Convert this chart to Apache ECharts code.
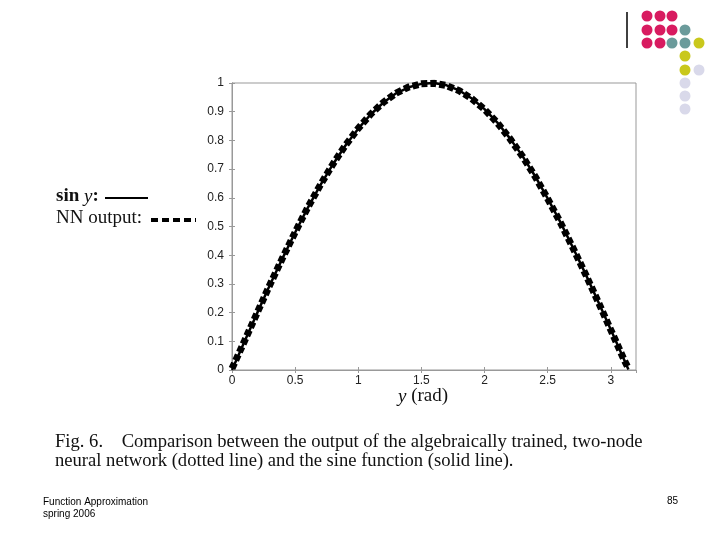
<!DOCTYPE html>
<html>
<head>
<meta charset="utf-8">
<style>
  html, body { margin: 0; padding: 0; background: #fff; }
  #main { width: 720px; height: 540px; }
</style>
<script src="https://cdn.jsdelivr.net/npm/echarts@6/dist/echarts.min.js"></script>
</head>
<body>
<div id="main"></div>
<script>
// x positions (rad)
const angles = [0, 0.1, 0.2, 0.3, 0.4, 0.5, 0.6, 0.7, 0.8, 0.9, 1.0, 1.1, 1.2, 1.3, 1.4, 1.5,
  1.6, 1.7, 1.8, 1.9, 2.0, 2.1, 2.2, 2.3, 2.4, 2.5, 2.6, 2.7, 2.8, 2.9, 3.0, 3.1, 3.14]
// solid line: sin y
const sinValues = [0, 0.100, 0.199, 0.296, 0.389, 0.479, 0.565, 0.644, 0.717, 0.783, 0.841,
  0.891, 0.932, 0.964, 0.985, 0.997, 1.000, 0.992, 0.974, 0.946, 0.909, 0.863, 0.808,
  0.746, 0.676, 0.598, 0.516, 0.427, 0.335, 0.239, 0.141, 0.042, 0.002]
// dotted line: NN output
const nnValues = [0.005, 0.102, 0.200, 0.297, 0.390, 0.480, 0.566, 0.645, 0.718, 0.784, 0.842,
  0.892, 0.933, 0.965, 0.986, 0.997, 0.999, 0.991, 0.973, 0.945, 0.908, 0.862, 0.807,
  0.745, 0.675, 0.597, 0.515, 0.426, 0.334, 0.238, 0.140, 0.041, 0.005]
const xTicks = [0, 0.5, 1, 1.5, 2, 2.5, 3]

const dotColors = { pink: '#d81b60', teal: '#6b9b9b', yellow: '#c9c81c', lav: '#d9d9ea' }
const dots = [
  [647, 16, 'pink'], [660, 16, 'pink'], [672, 16, 'pink'],
  [647, 30, 'pink'], [660, 30, 'pink'], [672, 30, 'pink'], [685, 30, 'teal'],
  [647, 43, 'pink'], [660, 43, 'pink'], [672, 43, 'teal'], [685, 43, 'teal'], [699, 43, 'yellow'],
  [685, 56, 'yellow'], [685, 70, 'yellow'], [699, 70, 'lav'],
  [685, 83, 'lav'], [685, 96, 'lav'], [685, 109, 'lav']
]

const chart = echarts.init(document.getElementById('main'))

const serif = 'Liberation Serif, Times New Roman, serif'
const sans = 'Liberation Sans, Arial, sans-serif'
const axisLine = { show: true, lineStyle: { color: '#999', width: 1 } }
const tick = { show: true, inside: true, length: 3, lineStyle: { color: '#999' } }

const graphics = [
  { type: 'line', shape: { x1: 627, y1: 12, x2: 627, y2: 48 }, style: { stroke: '#000', lineWidth: 1.5 } },
  // legend
  { type: 'text', left: 56, top: 187, style: { text: '{a|sin }{b|y}{a|:}', rich: {
    a: { fontFamily: serif, fontSize: 19, fontWeight: 'bold', fill: '#111' },
    b: { fontFamily: serif, fontSize: 19, fontStyle: 'italic', fill: '#111' } } } },
  { type: 'line', shape: { x1: 105, y1: 198, x2: 148, y2: 198 }, style: { stroke: '#000', lineWidth: 2 } },
  { type: 'text', left: 56, top: 209, style: { text: 'NN output:', fontFamily: serif, fontSize: 19, fill: '#111' } },
  { type: 'line', shape: { x1: 151, y1: 220, x2: 196, y2: 220 }, style: { stroke: '#000', lineWidth: 4, lineDash: [7, 4] } },
  // x axis name
  { type: 'text', left: 398, top: 387, style: { text: '{b|y}{a| (rad)}', rich: {
    a: { fontFamily: serif, fontSize: 19, fill: '#111' },
    b: { fontFamily: serif, fontSize: 19, fontStyle: 'italic', fill: '#111' } } } },
  // caption
  { type: 'text', left: 55, top: 433, style: {
    text: 'Fig. 6.    Comparison between the output of the algebraically trained, two-node\nneural network (dotted line) and the sine function (solid line).',
    fontFamily: serif, fontSize: 18.6, lineHeight: 19, fill: '#111' } },
  // footer
  { type: 'text', left: 43, top: 496, style: { text: 'Function Approximation\nspring 2006',
    fontFamily: sans, fontSize: 10, lineHeight: 12, fill: '#000' } },
  { type: 'text', left: 667, top: 496, style: { text: '85', fontFamily: sans, fontSize: 10, fill: '#000' } }
]
dots.forEach(d => {
  graphics.push({ type: 'circle', shape: { cx: d[0], cy: d[1], r: 5.5 }, style: { fill: dotColors[d[2]] } })
})

const option = {
  backgroundColor: '#fff',
  animation: false,
  grid: { left: 232, top: 83, width: 404, height: 287, show: true, borderColor: '#999', borderWidth: 1 },
  xAxis: [
    {
      type: 'value', min: 0, max: 3.2, interval: 0.5,
      axisLine: axisLine, axisTick: tick, splitLine: { show: false },
      axisLabel: { showMaxLabel: false, margin: 5, fontFamily: sans, fontSize: 12, color: '#222',
        formatter: v => (xTicks.indexOf(v) >= 0 ? String(v) : '') }
    },
    {
      type: 'value', position: 'top', min: 0, max: 3.2, interval: 0.5,
      axisLine: axisLine, axisTick: tick, axisLabel: { show: false }, splitLine: { show: false }
    }
  ],
  yAxis: [
    {
      type: 'value', min: 0, max: 1, interval: 0.1,
      axisLine: axisLine, axisTick: tick, splitLine: { show: false },
      axisLabel: { margin: 8, fontFamily: sans, fontSize: 12, color: '#222',
        formatter: v => (v === 0 || v === 1 ? String(v) : v.toFixed(1)) }
    },
    {
      type: 'value', position: 'right', min: 0, max: 1, interval: 0.1,
      axisLine: axisLine, axisTick: tick, axisLabel: { show: false }, splitLine: { show: false }
    }
  ],
  series: [
    {
      name: 'sin y', type: 'line', showSymbol: false, z: 2,
      data: angles.map((x, i) => [x, sinValues[i]]),
      lineStyle: { color: '#000', width: 2.5 }
    },
    {
      name: 'NN output', type: 'line', showSymbol: false, z: 3,
      data: angles.map((x, i) => [x, nnValues[i]]),
      lineStyle: { color: '#000', width: 7, type: [6, 3] }
    }
  ],
  graphic: graphics
}

chart.setOption(option)
</script>
</body>
</html>
